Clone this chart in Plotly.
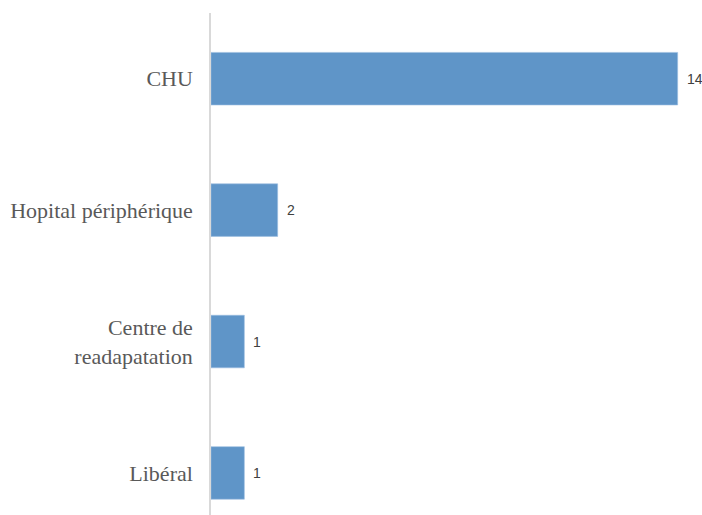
import plotly.graph_objects as go

categories = ["CHU", "Hopital périphérique", "Centre de<br>readapatation", "Libéral"]
values = [14, 2, 1, 1]
value_labels = ["14", "2", "1", "1"]

fig = go.Figure()
fig.add_trace(go.Bar(
    y=categories, x=values, orientation="h",
    marker=dict(color="#5F95C8", line=dict(color="#9CBDE0", width=0.6)),
    width=0.4,
    hoverinfo="skip",
))
for c, v, t in zip(categories, values, value_labels):
    fig.add_annotation(x=v, y=c, text=t, showarrow=False, xanchor="left",
                       xshift=7, font=dict(family="Liberation Sans, Arial, sans-serif",
                                            size=14, color="#404040"))

fig.update_layout(
    width=702, height=515,
    margin=dict(l=211, r=21, t=13, b=0),
    plot_bgcolor="white", paper_bgcolor="white",
    showlegend=False,
    bargap=0.6,
)
fig.update_xaxes(range=[0, 14.1], showgrid=False, zeroline=False,
                 showticklabels=False, showline=False)
fig.update_yaxes(
    type="category", categoryorder="array", categoryarray=categories,
    range=[3.32, -0.5], showgrid=False, zeroline=False,
    showline=True, linecolor="#D9D9D9", linewidth=1.5,
    ticks="", ticklabelstandoff=12,
    tickfont=dict(family="Liberation Serif, Times New Roman, serif", size=22, color="#595959"),
)
fig.write_html("out.html", config={"displayModeBar": False},
               post_script="document.body.style.margin='0';document.body.style.overflow='hidden';")
